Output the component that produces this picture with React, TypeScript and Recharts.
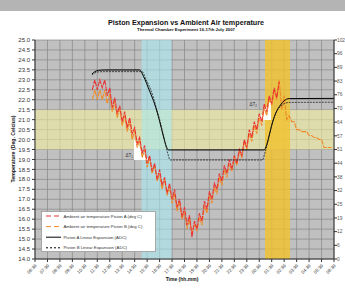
import React from 'react';
import { LineChart, Line, XAxis, YAxis, CartesianGrid, ReferenceArea } from 'recharts';

const FONT = '"Liberation Sans", Arial, sans-serif';

// x axis: hours since start of run, one tick per hour
const timeLabels = [
  '06:39', '07:39', '08:39', '09:39', '10:39', '11:39', '12:39', '13:39', '14:39',
  '15:39', '16:39', '17:39', '18:39', '19:39', '20:39', '21:39', '22:39', '23:39',
  '00:39', '01:39', '02:39', '03:39', '04:39', '05:39', '06:39',
];
const hourTicks = timeLabels.map((_, i) => i);

const tempTicks = [
  14.0, 14.5, 15.0, 15.5, 16.0, 16.5, 17.0, 17.5, 18.0, 18.5, 19.0, 19.5,
  20.0, 20.5, 21.0, 21.5, 22.0, 22.5, 23.0, 23.5, 24.0, 24.5, 25.0,
];
const adcTicks = [0, 6.4, 12.8, 19.2, 25.6, 32, 38.4, 44.8, 51.2, 57.6, 64, 70.4, 76.8, 83.2, 89.6, 96, 102.4];

// ambient air readings
const ambientHours = [
  4.6, 4.8, 5.0, 5.2, 5.4, 5.6, 5.8, 6.0, 6.2, 6.4,
  6.6, 6.8, 7.0, 7.2, 7.4, 7.6, 7.8, 8.0, 8.2, 8.4,
  8.6, 8.8, 9.0, 9.2, 9.4, 9.6, 9.8, 10.0, 10.2, 10.4,
  10.6, 10.8, 11.0, 11.2, 11.4, 11.6, 11.8, 12.0, 12.2, 12.4,
  12.6, 12.8, 13.0, 13.2, 13.4, 13.6, 13.8, 14.0, 14.2, 14.4,
  14.6, 14.8, 15.0, 15.2, 15.4, 15.6, 15.8, 16.0, 16.2, 16.4,
  16.6, 16.8, 17.0, 17.2, 17.4, 17.6, 17.8, 18.0, 18.2, 18.4,
  18.6, 18.8, 19.0, 19.2, 19.4, 19.6, 19.8, 20.0, 20.2, 20.4,
  20.6, 20.8, 21.0, 21.2, 21.4, 21.6, 21.8, 22.0, 22.2, 22.4,
  22.6, 22.8, 23.0, 23.2, 23.4, 23.6, 23.8,
];
const ambientA = [
  22.5, 23.0, 22.5, 23.0, 22.6, 23.0, 22.2, 22.6, 21.6, 22.1,
  21.3, 21.7, 20.9, 21.4, 20.6, 21.1, 20.3, 20.6, 19.8, 20.1,
  19.3, 19.7, 18.8, 19.2, 18.4, 18.8, 18.0, 18.5, 17.7, 18.1,
  17.3, 17.8, 17.0, 17.5, 16.6, 17.0, 16.1, 16.6, 15.7, 16.2,
  15.1, 15.9, 15.5, 16.3, 15.9, 16.9, 16.5, 17.4, 17.0, 17.8,
  17.5, 18.3, 17.9, 18.7, 18.3, 19.0, 18.5, 19.2, 18.8, 19.5,
  19.2, 20.0, 19.6, 20.5, 20.1, 20.9, 20.5, 21.3, 20.9, 21.8,
  21.4, 22.2, 21.8, 22.6, 22.1, 22.9,
];
const ambientB = [
  22.0, 22.5, 22.0, 22.5, 22.0, 22.5, 21.8, 22.3, 21.4, 21.9,
  21.1, 21.6, 20.7, 21.2, 20.4, 20.9, 20.0, 20.5, 19.6, 20.0,
  19.1, 19.5, 18.6, 19.1, 18.3, 18.7, 17.9, 18.3, 17.5, 18.0,
  17.2, 17.6, 16.8, 17.3, 16.4, 16.9, 16.0, 16.4, 15.5, 16.0,
  15.3, 15.8, 15.4, 16.1, 15.7, 16.7, 16.3, 17.2, 16.8, 17.6,
  17.3, 18.1, 17.7, 18.5, 18.1, 18.8, 18.4, 19.1, 18.7, 19.4,
  19.1, 19.9, 19.5, 20.3, 19.9, 20.7, 20.3, 21.1, 20.7, 21.6,
  21.2, 22.1, 21.7, 22.5, 22.0, 23.0, 21.5, 22.2, 21.0, 21.2,
  20.9, 20.9, 20.5, 20.5, 20.4, 20.4, 20.4, 20.2, 20.2, 20.1,
  20.1, 20.0, 20.0, 19.6, 19.6, 19.6, 19.6,
];

// piston expansion (ADC counts, right axis)
const pistonHoursA = [4.57, 4.8, 5.1, 5.6, 8.4, 8.7, 9.2, 9.6, 10.0, 10.3, 10.55, 10.7, 18.4, 18.6, 18.85, 19.1, 19.35, 19.7, 20.0, 20.4, 24];
const pistonA = [86.5, 87.6, 88.2, 88.4, 88.4, 85.5, 78.5, 72.5, 64.5, 57.5, 52.5, 51.0, 51.0, 53.5, 59.0, 64.5, 68.5, 72.0, 74.0, 75.0, 75.1];
const pistonHoursB = [4.57, 4.8, 5.1, 5.6, 8.6, 8.9, 9.3, 9.7, 10.1, 10.4, 10.65, 10.85, 18.25, 18.45, 18.7, 18.95, 19.2, 19.5, 19.9, 20.4, 24];
const pistonB = [86.0, 87.0, 87.5, 87.6, 87.6, 84.0, 79.0, 71.5, 63.0, 55.5, 49.5, 46.3, 46.3, 49.5, 55.0, 61.5, 66.5, 70.0, 72.3, 73.2, 73.3];

const targetBand = [19.5, 21.5];
const coolBand = [8.56, 10.97];
const heatBand = [18.46, 20.47];

const legendItems = [
  { name: 'Ambient air temperature Piston A (deg C)', color: '#e83434', dash: '5 3' },
  { name: 'Ambient air temperature Piston B (deg C)', color: '#f08a28', dash: '5 3' },
  { name: 'Piston A Linear Expansion (ADC)', color: '#000', dash: undefined },
  { name: 'Piston B Linear Expansion (ADC)', color: '#000', dash: '2 2' },
];

const seriesA = ambientA.map((v, i) => ({ t: ambientHours[i], v }));
const seriesB = ambientB.map((v, i) => ({ t: ambientHours[i], v }));
const expA = pistonA.map((v, i) => ({ t: pistonHoursA[i], v }));
const expB = pistonB.map((v, i) => ({ t: pistonHoursB[i], v }));

const TimeTick = (props: any) => {
  const { x, y, payload } = props;
  const px = x + 2;
  const py = y + 3;
  return (
    <text x={px} y={py} transform={`rotate(-45 ${px} ${py})`} textAnchor="end" fontSize={4.5} fill="#333" fontFamily={FONT}>
      {timeLabels[payload.value]}
    </text>
  );
};

const triangle = (corner: 'bl' | 'br', sub: string) => (props: any) => {
  const { x, y, width, height } = props;
  const pts =
    corner === 'bl'
      ? `${x},${y} ${x},${y + height} ${x + width},${y + height}`
      : `${x},${y + height} ${x + width},${y} ${x + width},${y + height}`;
  const lx = x - 1;
  const ly = corner === 'bl' ? y + height - 3 : y + 6;
  return (
    <g>
      <polygon points={pts} fill="#fff" />
      <text x={lx} y={ly} textAnchor="end" fontSize={4.5} fill="#333" fontFamily={FONT}>
        ΔT<tspan fontSize={3} dy={1}>{sub}</tspan>
      </text>
    </g>
  );
};

export default function App() {
  return (
    <div style={{ position: 'fixed', left: 0, top: 0, width: 345, height: 296, overflow: 'hidden', background: '#fff' }}>
      <div style={{ position: 'absolute', left: 0, top: 0, width: 345, height: 11, background: '#b4b4b4' }} />
      <div style={{ position: 'absolute', left: 0, top: 0 }}>
        <LineChart width={345} height={296} margin={{ top: 40, right: 0, bottom: 0, left: 0 }}>
          <CartesianGrid fill="#c0c0c0" stroke="#858585" strokeWidth={0.7} />
          <XAxis
            type="number"
            dataKey="t"
            domain={[0, 24]}
            ticks={hourTicks}
            interval={0}
            height={37}
            tickSize={3}
            tickMargin={1}
            stroke="#333"
            tick={<TimeTick />}
          />
          <YAxis
            domain={[14, 25]}
            ticks={tempTicks}
            interval={0}
            width={35}
            tickSize={3}
            tickMargin={2}
            stroke="#333"
            tick={{ fontSize: 6, fill: '#333', fontFamily: FONT }}
            tickFormatter={(v: number) => v.toFixed(1)}
          />
          <YAxis
            yAxisId="adc"
            orientation="right"
            domain={[0, 102.4]}
            ticks={adcTicks}
            interval={0}
            width={11}
            tickSize={3}
            tickMargin={0}
            stroke="#333"
            tick={{ fontSize: 4.8, fill: '#555', fontFamily: FONT }}
            tickFormatter={(v: number) => String(Math.floor(v))}
          />
          <ReferenceArea y1={targetBand[0]} y2={targetBand[1]} fill="#f2eea0" fillOpacity={0.6} stroke="none" />
          <ReferenceArea x1={coolBand[0]} x2={coolBand[1]} fill="#a8eaf0" fillOpacity={0.6} stroke="none" />
          <ReferenceArea x1={heatBand[0]} x2={heatBand[1]} fill="#f2c22c" fillOpacity={0.8} stroke="none" />
          <ReferenceArea x1={7.95} x2={9.1} y1={18.97} y2={20.03} stroke="none" shape={triangle('bl', '1')} />
          <ReferenceArea x1={17.9} x2={18.95} y1={20.98} y2={21.98} stroke="none" shape={triangle('br', '2')} />
          <Line data={seriesB} dataKey="v" type="linear" stroke={legendItems[1].color} strokeWidth={1.1} strokeDasharray="5 1" dot={false} isAnimationActive={false} />
          <Line data={seriesA} dataKey="v" type="linear" stroke={legendItems[0].color} strokeWidth={1.1} strokeDasharray="5 1" dot={false} isAnimationActive={false} />
          <Line data={expA} yAxisId="adc" dataKey="v" type="monotone" stroke="#000" strokeWidth={1} dot={false} isAnimationActive={false} />
          <Line data={expB} yAxisId="adc" dataKey="v" type="monotone" stroke="#222" strokeWidth={0.8} strokeDasharray="2 1" dot={false} isAnimationActive={false} />
        </LineChart>
      </div>
      <svg style={{ position: 'absolute', left: 0, top: 0 }} width={345} height={296} fontFamily={FONT}>
        <text x={186} y={24.5} textAnchor="middle" fontSize={7.2} fontWeight="bold" fill="#111">
          Piston Expansion vs Ambient Air temperature
        </text>
        <text x={186} y={31} textAnchor="middle" fontSize={4.3} fontWeight="bold" fill="#111">
          Thermal Chamber Experiment 16-17th July 2007
        </text>
        <text x={14.5} y={149} transform="rotate(-90 14.5 149)" textAnchor="middle" fontSize={5.2} fontWeight="bold" fill="#111">
          Temperature (Deg. Celcius)
        </text>
        <text x={182} y={281} textAnchor="middle" fontSize={5} fontWeight="bold" fill="#111">
          Time (hh.mm)
        </text>
        <rect x={41.5} y={211.5} width={114} height={40} fill="#fff" stroke="#999" strokeWidth={0.8} />
        {legendItems.map((item, i) => {
          const ly = 216 + i * 10.6;
          return (
            <g key={item.name}>
              <line x1={46} x2={61} y1={ly} y2={ly} stroke={item.color} strokeWidth={1} strokeDasharray={item.dash} />
              <text x={63.5} y={ly + 1.5} fontSize={4.3} fill="#333">{item.name}</text>
            </g>
          );
        })}
      </svg>
    </div>
  );
}
